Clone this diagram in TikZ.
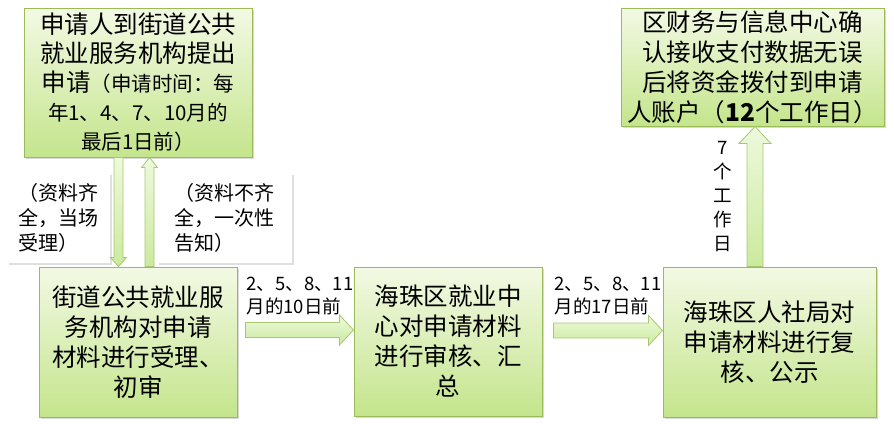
\documentclass[tikz,border=0pt]{standalone}
\usepackage{fontspec}
\setmainfont{Noto Sans CJK SC}
\usepackage{tikz}
\usetikzlibrary{calc,shadows}
\definecolor{boxline}{HTML}{9BBB59}
\definecolor{boxtop}{HTML}{F3F9E4}
\definecolor{boxbot}{HTML}{C4E58C}
\definecolor{arrline}{HTML}{A6C96E}
\definecolor{arrtop}{HTML}{EEF9DD}
\definecolor{arrbot}{HTML}{CBEA9E}
\tikzset{
box/.style = {rectangle, draw=boxline, line width=1pt, top color=boxtop, bottom color=boxbot, align=center, inner sep=0pt, minimum width = #1,
  drop shadow={shadow xshift=2pt, shadow yshift=-2pt, opacity=.3}, font=\fontsize{24.5}{30}\selectfont},
box/.default = 200pt, % width of the process box
note/.style = {rectangle, fill=white, align=left, inner sep=0pt, minimum width = #1, minimum height=90pt,
  drop shadow={shadow xshift=2pt, shadow yshift=-2pt, opacity=.25}, font=\fontsize{20}{25}\selectfont},
note/.default = 100pt,
fatarrow/.style = {draw=arrline, line width=0.8pt, top color=arrtop, bottom color=arrbot},
}
% #1 shaft half width, #2 head half width, #3 head length, #4 from, #5 to
\newcommand{\fatarrow}[5]{%
  \coordinate (headbase) at ($(#5)!#3!(#4)$);
  \path[fatarrow] ($(#4)!#1!90:(#5)$) -- ($(headbase)!#1!90:(#5)$) -- ($(headbase)!#2!90:(#5)$) -- (#5)
    -- ($(headbase)!#2!-90:(#5)$) -- ($(headbase)!#1!-90:(#5)$) -- ($(#4)!#1!-90:(#5)$) -- cycle;
}

\begin{document}
\begin{tikzpicture}[x=1pt, y=-1pt]
\useasboundingbox (0,0) rectangle (894,423);

    \node[box=228pt, minimum height=149pt, font=\fontsize{24.5}{29}\selectfont] (procApply) at (138,82.5)
      {申请人到街道公共\\就业服务机构提出\\申请{\fontsize{20.5}{29}\selectfont（申请时间：每}\\
       {\fontsize{20.5}{29}\selectfont 年1、4、7、10月的}\\{\fontsize{20.5}{29}\selectfont 最后1日前）}};
    \node[box=198pt, minimum height=150pt] (procAccept) at (138,342) {街道公共就业服\\务机构对申请\\材料进行受理、\\初审};
    \node[box=188pt, minimum height=149pt] (procReview) at (448,341.5) {海珠区就业中\\心对申请材料\\进行审核、汇\\总};
    \node[box=213pt, minimum height=150pt] (procRecheck) at (769.5,342) {海珠区人社局对\\申请材料进行复\\核、公示};
    \node[box=263pt, minimum height=118pt] (procPay) at (752.5,67) {区财务与信息中心确\\认接收支付数据无误\\后将资金拨付到申请\\人账户（{\bfseries 12}个工作日）};

\node[note=103pt] (labOK) at (58.5,218) {（资料齐\\全，当场\\受理）};
\node[note=135pt] (labNotOK) at (224.5,218) {（资料不齐\\全，一次性\\告知）};

\node[anchor=west, align=left, font=\fontsize{18.5}{23}\selectfont] (labDateA) at (243,296.5) {2、5、8、11\\月的10日前};
\node[anchor=west, align=left, font=\fontsize{18.5}{23}\selectfont] (labDateB) at (551,296.5) {2、5、8、11\\月的17日前};
\node[align=center, font=\fontsize{18.5}{24}\selectfont] (labDays) at (723,197) {7\\个\\工\\作\\日};

\coordinate (okStart) at ([xshift=-19.5pt]procApply.south);
\coordinate (okEnd) at ([xshift=-19.5pt]procAccept.north);
\coordinate (backStart) at ([xshift=11.5pt]procAccept.north);
\coordinate (backEnd) at ([xshift=11.5pt]procApply.south);
\coordinate (sendA) at ([xshift=8pt,yshift=12pt]procAccept.east);
\coordinate (sendAEnd) at (sendA -| procReview.west);
\coordinate (sendB) at ([xshift=11pt,yshift=11pt]procReview.east);
\coordinate (sendBEnd) at (sendB -| procRecheck.west);
\coordinate (payStart) at ([xshift=-14.5pt]procRecheck.north);
\coordinate (payEnd) at (payStart |- procPay.south);

\fatarrow{4.5pt}{8pt}{9pt}{okStart}{okEnd}
\fatarrow{4.5pt}{8pt}{10pt}{backStart}{backEnd}
\fatarrow{7.5pt}{15pt}{14pt}{sendA}{sendAEnd}
\fatarrow{7.5pt}{15pt}{14pt}{sendB}{sendBEnd}
\fatarrow{8pt}{16pt}{17pt}{payStart}{payEnd}

\end{tikzpicture}
\end{document}
